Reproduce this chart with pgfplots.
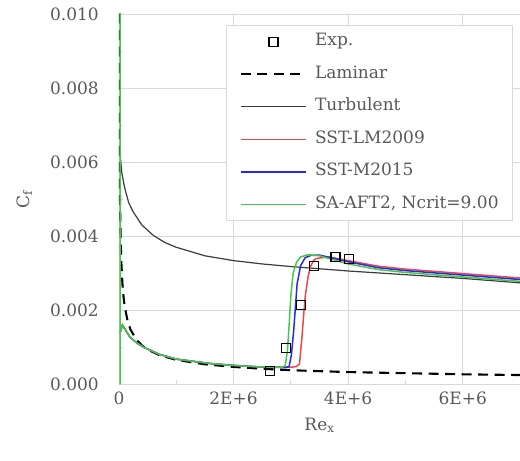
\documentclass[border=0pt]{standalone}
\usepackage{fontspec}
\setmainfont{DejaVu Serif}
\usepackage{pgfplots}
\pgfplotsset{compat=1.18}
\definecolor{textcol}{RGB}{89,89,89}
\definecolor{gridgray}{RGB}{217,217,217}
\definecolor{turbcol}{RGB}{60,60,60}
\definecolor{redcol}{RGB}{240,70,70}
\definecolor{bluecol}{RGB}{40,40,230}
\definecolor{greencol}{RGB}{70,200,70}
\begin{document}
\begin{tikzpicture}
\begin{axis}[
  scale only axis, width=401bp, height=370.3bp,
  xmin=0, xmax=7, ymin=0, ymax=0.010,
  scaled y ticks=false, scaled x ticks=false,
  xtick={0,2,4,6}, xticklabels={0,2E+6,4E+6,6E+6},
  ytick={0,0.002,0.004,0.006,0.008,0.010},
  yticklabels={0.000,0.002,0.004,0.006,0.008,0.010},
  minor x tick num=1, minor y tick num=1,
  axis lines*=left,
  axis line style={gridgray, line width=0.8bp},
  grid=major, major grid style={gridgray, line width=0.8bp},
  tick align=inside, major tick length=4bp, minor tick length=4bp,
  every tick/.style={gridgray, line width=0.8bp},
  tick label style={font=\fontsize{17bp}{20bp}\selectfont, text=textcol},
  yticklabel style={anchor=east, inner sep=0pt, xshift=-20bp},
  xticklabel style={anchor=north, inner sep=0pt, yshift=-7.5bp},
  xlabel={Re\textsubscript{x}},
  ylabel={C\textsubscript{f}},
  label style={font=\fontsize{17bp}{20bp}\selectfont, text=textcol},
  xlabel style={at={(axis description cs:0.5,0)}, anchor=north, inner sep=0pt, yshift=-33.5bp},
  ylabel style={at={(axis description cs:-0.236,0.5)}, anchor=center, inner sep=0pt},
  legend cell align=left,
  legend image code/.code={\draw[mark repeat=2,mark phase=2,#1] plot coordinates {(0bp,0bp) (32.5bp,0bp) (65bp,0bp)}; \path (73bp,0bp);},
  legend style={at={(axis description cs:1,1)}, anchor=north east, xshift=-7bp, yshift=-11bp,
    draw=gridgray, fill=white, line width=0.8bp, inner xsep=14bp, inner ysep=8.5bp,
    row sep=16.5bp,
    nodes={inner sep=0pt, text height=12bp, text depth=4bp, text=textcol, font=\fontsize{17bp}{20bp}\selectfont}},
]
% Exp.
\addplot[only marks, mark=square, mark size=4.5bp, mark options={black, line width=1.1bp, fill=none}] coordinates {
(2.63,0.00037) (2.91,0.00099) (3.17,0.00215) (3.41,0.00320) (3.78,0.00344) (4.02,0.00339)};
\addlegendentry{Exp.}
% Laminar
\addplot[black, line width=2.1bp, dash pattern=on 10bp off 6.5bp] coordinates {
(0.0044,0.01001) (0.006,0.00857) (0.01,0.00664) (0.015,0.00542) (0.02,0.00470) (0.03,0.00383)
(0.04,0.00332) (0.06,0.00271) (0.08,0.00235) (0.1,0.00210) (0.15,0.00171) (0.2,0.00148)
(0.3,0.00121) (0.4,0.00105) (0.5,0.00094) (0.7,0.00079) (1.0,0.00066) (1.5,0.00054)
(2.0,0.00047) (2.5,0.00042) (3.0,0.00038) (4.0,0.00033) (5.0,0.00030) (6.0,0.00027) (7.0,0.00025)};
\addlegendentry{Laminar}
% Turbulent
\addplot[turbcol, line width=1.2bp] coordinates {
(0.02,0.0062) (0.05,0.0057) (0.1,0.0053) (0.17,0.0049) (0.25,0.00465) (0.4,0.0043)
(0.6,0.00402) (0.8,0.00383) (1.0,0.0037) (1.5,0.00347) (2.0,0.00334) (2.5,0.00325)
(3.0,0.00318) (3.5,0.00312) (4.0,0.00306) (4.5,0.00301) (5.0,0.00296) (6.0,0.00286) (7.0,0.00274)};
\addlegendentry{Turbulent}
% SST-LM2009
\addplot[redcol, line width=1.5bp] coordinates {
(0.02,0.0014) (0.06,0.0016) (0.12,0.00145) (0.19,0.00128) (0.3,0.00113)
(0.42,0.00101) (0.7,0.00081) (1.0,0.00068) (1.6,0.00056) (2.0,0.00051) (2.44,0.00047)
(3.0,0.00046) (3.1,0.00048) (3.15,0.00055) (3.19,0.0012) (3.22,0.0018) (3.25,0.00236)
(3.3,0.0029) (3.34,0.00317) (3.4,0.00335) (3.45,0.0034) (3.66,0.00344) (4.0,0.00334)
(4.52,0.00319) (5.0,0.00311) (6.0,0.00299) (7.0,0.00287)};
\addlegendentry{SST-LM2009}
% SST-M2015
\addplot[bluecol, line width=1.5bp] coordinates {
(0.02,0.0014) (0.06,0.0016) (0.12,0.00145) (0.19,0.00128) (0.3,0.00113)
(0.42,0.00101) (0.7,0.00081) (1.0,0.00068) (1.6,0.00056) (2.0,0.00051) (2.44,0.00047)
(2.9,0.00045) (2.97,0.00048) (3.01,0.0008) (3.05,0.00146) (3.08,0.0021) (3.11,0.00272)
(3.17,0.0032) (3.25,0.00342) (3.35,0.00348) (3.5,0.00349) (4.0,0.00331) (4.52,0.00315)
(5.0,0.00307) (6.0,0.00295) (7.0,0.00283)};
\addlegendentry{SST-M2015}
% SA-AFT2
\addplot[greencol, line width=1.5bp] coordinates {
(0.018,0) (0.018,0.0105) (0.02,0.0014) (0.06,0.0016) (0.12,0.00145) (0.19,0.00128) (0.3,0.00113)
(0.42,0.00101) (0.7,0.00081) (1.0,0.00068) (1.6,0.00056) (2.0,0.00051) (2.44,0.00047)
(2.85,0.00046) (2.9,0.0005) (2.94,0.0009) (2.97,0.0016) (3.0,0.0024) (3.04,0.0030)
(3.1,0.0033) (3.17,0.00344) (3.3,0.0035) (3.5,0.00347) (4.0,0.00325) (4.52,0.0031)
(5.0,0.00302) (6.0,0.0029) (7.0,0.00278)};
\addlegendentry{SA-AFT2, Ncrit=9.00}
\end{axis}
\pgfresetboundingbox
\path[use as bounding box] (-119bp,-76.7bp) rectangle (401bp,384.3bp);
\end{tikzpicture}
\end{document}
